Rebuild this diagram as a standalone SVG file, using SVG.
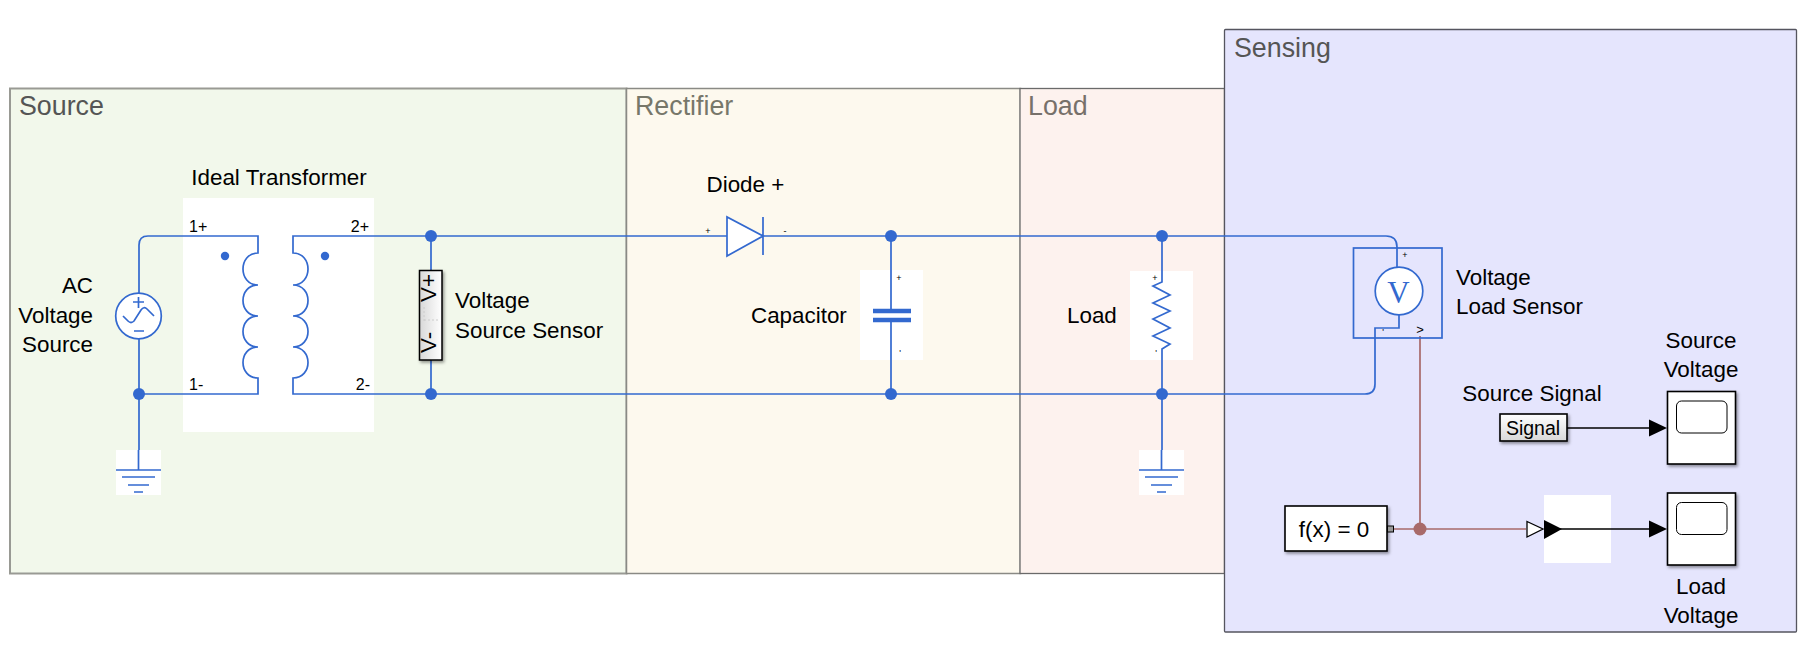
<svg xmlns="http://www.w3.org/2000/svg" width="1808" height="647" viewBox="0 0 1808 647">
<defs>
<filter id="sh" x="-20%" y="-20%" width="150%" height="150%"><feDropShadow dx="1.500" dy="2" stdDeviation="1.500" flood-color="#000" flood-opacity="0.4"/></filter>
<linearGradient id="g" x1="0" y1="0" x2="0" y2="1"><stop offset="0" stop-color="#fff"/><stop offset="1" stop-color="#d8d8d8"/></linearGradient>
<linearGradient id="gh" x1="1" y1="0" x2="0" y2="0"><stop offset="0" stop-color="#fff"/><stop offset="1" stop-color="#d8d8d8"/></linearGradient>
</defs>
<style>
text{font-family:"Liberation Sans",Arial,sans-serif;font-size:22.400px;fill:#000}
.at{font-size:26.800px;fill:#555}
.p{font-size:16px}
.tiny{font-size:9px}
.w{fill:none;stroke:#3369cf;stroke-width:1.700}
.d{fill:#3369cf;stroke:none}
.s{fill:none;stroke:#a86a6a;stroke-width:1.700}
.k{fill:none;stroke:#000;stroke-width:1.500}
.b{fill:#fff;stroke:#000;stroke-width:1.600;filter:url(#sh)}
</style>
<g id="area-source"><rect x="10" y="88.500" width="616.500" height="485" fill="#f2f8eb" stroke="#999a94" stroke-width="2"/><text class="at" x="19" y="115">Source</text></g>
<g id="area-rectifier"><rect x="626.500" y="88.500" width="394" height="485" fill="#fdf9ee" stroke="#8a8a85" stroke-width="1.500"/><text class="at" x="635" y="115" style="fill:#77776a">Rectifier</text></g>
<g id="area-load"><rect x="1020" y="88.500" width="204.500" height="485" fill="#fdf2ee" stroke="#6a6a6a" stroke-width="1.300"/><text class="at" x="1028" y="115" style="fill:#77706a">Load</text></g>
<g id="area-sensing"><rect x="1224.500" y="29.500" width="572" height="602.500" rx="1" fill="#e5e5fd" stroke="#55555f" stroke-width="1.300"/><text class="at" x="1234" y="57">Sensing</text></g>

<g id="connectors">
<path class="w" d="M183 236H148Q139 236 139 245V293"/>
<path class="w" d="M139 339V463M139 394H183"/>
<path class="w" d="M374 236H727M431 236V270M431 360V394"/>
<path class="w" d="M763 236H1386Q1397 236 1397 247V267"/>
<path class="w" d="M374 394H1365Q1375 394 1375 384V328H1399V315"/>
<path class="w" d="M891 236V270M891 360V394"/>
<path class="w" d="M1162 236V271M1162 360V463"/>
<path class="s" d="M1420 336V529M1393 529H1526"/>
<path class="k" d="M1567 428H1650M1560 529H1650"/>
<circle class="d" cx="139" cy="394" r="6"/><circle class="d" cx="431" cy="236" r="6"/><circle class="d" cx="431" cy="394" r="6"/>
<circle class="d" cx="891" cy="236" r="6"/><circle class="d" cx="891" cy="394" r="6"/><circle class="d" cx="1162" cy="236" r="6"/><circle class="d" cx="1162" cy="394" r="6"/>
<circle cx="1420" cy="529" r="6.500" fill="#a86a6a"/>
</g>

<g id="ac-source">
<text x="93" y="293" text-anchor="end">AC</text><text x="93" y="323" text-anchor="end">Voltage</text><text x="93" y="352" text-anchor="end">Source</text>
<circle cx="138.500" cy="316" r="22.800" fill="#fff" stroke="#3369cf" stroke-width="1.700"/>
<path class="w" d="M138.500 297V308M133 302H144M134 331H144M123 316L128 321Q131 324 134 321L141 310Q144 306 147 309L154 316"/>
</g>
<g id="ground-1"><rect x="116" y="450" width="45" height="45" fill="#fff"/><path class="w" d="M138.500 450V470M116 470H161M122 477H155M128 485H149M134 492H143"/></g>

<g id="ideal-transformer">
<text x="279" y="185" text-anchor="middle">Ideal Transformer</text>
<rect x="183" y="198" width="191" height="234" fill="#fff"/>
<path class="w" d="M183 236H258V253C238 253 238 285 258 285C238 285 238 316 258 316C238 316 238 347 258 347C238 347 238 378 258 378V394H183"/>
<path class="w" d="M374 236H293V253C313 253 313 285 293 285C313 285 313 316 293 316C313 316 313 347 293 347C313 347 313 378 293 378V394H374"/>
<circle class="d" cx="225" cy="256" r="4.200"/><circle class="d" cx="325" cy="256" r="4.200"/>
<text class="p" x="189" y="232">1+</text><text class="p" x="369" y="232" text-anchor="end">2+</text><text class="p" x="189" y="390">1-</text><text class="p" x="370" y="390" text-anchor="end">2-</text>
</g>

<g id="voltage-source-sensor">
<rect x="419.500" y="270.500" width="22.500" height="89.500" fill="url(#gh)" stroke="#000" stroke-width="1.500" filter="url(#sh)"/>
<path d="M424 320H439M424 307V322" stroke="#ccc" stroke-width="1" stroke-dasharray="2 2" fill="none"/>
<text transform="translate(436 302) rotate(-90)">V+</text>
<text transform="translate(436 353) rotate(-90)">V-</text>
<text x="455" y="308">Voltage</text><text x="455" y="338">Source Sensor</text>
</g>

<g id="diode">
<text x="706.500" y="192">Diode +</text>
<path class="w" d="M727 217V256L763 236ZM763 217V255" style="fill:#fff"/>
<text class="tiny" x="708" y="234" text-anchor="middle">+</text><text class="tiny" x="785" y="234" text-anchor="middle">-</text>
</g>

<g id="capacitor">
<text x="751" y="323">Capacitor</text>
<rect x="860" y="270" width="63" height="90" fill="#fff"/>
<path class="w" d="M891 270V311M891 320V360"/>
<path d="M873 311H911M873 320H911" stroke="#3369cf" stroke-width="4.500" fill="none"/>
<text class="tiny" x="899" y="281" text-anchor="middle">+</text><text class="tiny" x="900" y="356" text-anchor="middle">'</text>
</g>

<g id="load">
<text x="1067" y="323">Load</text>
<rect x="1130" y="271" width="63" height="89" fill="#fff"/>
<path class="w" d="M1162 271V282L1153 286L1170 295L1153 303L1170 311L1153 319L1170 328L1153 336L1170 344L1162 349V360"/>
<text class="tiny" x="1155" y="281" text-anchor="middle">+</text><text class="tiny" x="1156" y="356" text-anchor="middle">'</text>
</g>
<g id="ground-2"><rect x="1139" y="450" width="45" height="45" fill="#fff"/><path class="w" d="M1161.500 450V470M1139 470H1184M1145 477H1178M1151 485H1172M1157 492H1166"/></g>

<g id="voltage-load-sensor">
<rect x="1353.500" y="248" width="88.500" height="90" fill="none" stroke="#3369cf" stroke-width="1.700"/>
<circle cx="1399" cy="291" r="23.800" fill="#fff" stroke="#3369cf" stroke-width="1.700"/>
<text x="1398.500" y="303" text-anchor="middle" style="font-family:'Liberation Serif',serif;font-size:31px;fill:#3369cf">V</text>
<text class="tiny" x="1405" y="258" text-anchor="middle">+</text><text class="tiny" x="1383" y="335" text-anchor="middle">'</text>
<text x="1420" y="334" text-anchor="middle" style="font-size:13px">&gt;</text>
<text x="1456" y="285">Voltage</text><text x="1456" y="314">Load Sensor</text>
</g>

<g id="source-signal">
<text x="1532" y="401" text-anchor="middle">Source Signal</text>
<rect class="b" x="1500" y="414" width="67" height="27" style="fill:url(#g)"/>
<text x="1533" y="435" text-anchor="middle" style="font-size:19.500px">Signal</text>
</g>
<g id="source-voltage-scope">
<text x="1701" y="348" text-anchor="middle">Source</text><text x="1701" y="377" text-anchor="middle">Voltage</text>
<rect class="b" x="1667.500" y="391.500" width="68" height="72.500"/>
<rect x="1676.500" y="401" width="50.500" height="32" rx="5" fill="#fff" stroke="#000" stroke-width="1"/>
<path d="M1649 419.500L1667 428L1649 436.500Z" fill="#000"/>
</g>
<g id="fcn"><rect class="b" x="1285" y="506" width="102" height="45"/><text x="1334" y="537" text-anchor="middle">f(x) = 0</text><rect x="1387.500" y="526" width="6" height="6" fill="#999" stroke="#000" stroke-width="1"/></g>
<g id="converter">
<rect x="1544" y="495" width="67" height="68" fill="#fff"/>
<path d="M1527 521.500L1543 529L1527 537Z" fill="#fff" stroke="#000" stroke-width="1.300"/>
<path d="M1544 520L1562 529L1544 539Z" fill="#000"/>
<path class="k" d="M1560 529H1611"/>
</g>
<g id="load-voltage-scope">
<rect class="b" x="1667.500" y="493" width="68" height="72"/>
<rect x="1676.500" y="502.500" width="50.500" height="32" rx="5" fill="#fff" stroke="#000" stroke-width="1"/>
<path d="M1649 520.500L1667 529L1649 537.500Z" fill="#000"/>
<text x="1701" y="594" text-anchor="middle">Load</text><text x="1701" y="623" text-anchor="middle">Voltage</text>
</g>
</svg>
